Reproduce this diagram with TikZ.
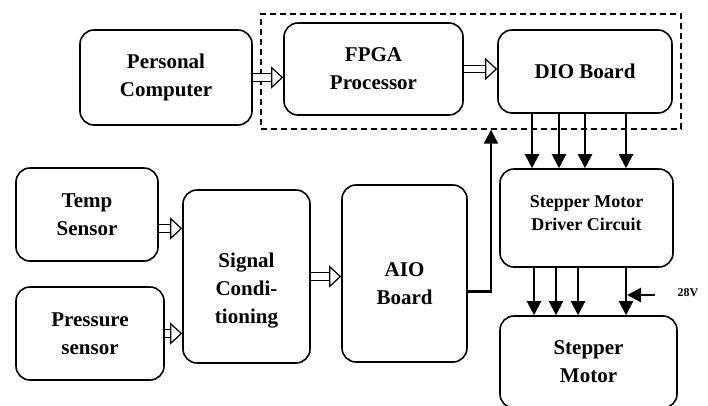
\documentclass[tikz,border=0pt]{standalone}
\usepackage{fontspec}
\setmainfont{Liberation Serif}
\usetikzlibrary{
    arrows.meta,
    positioning
}
\tikzset{
    blk/.style={draw, line width=1.6pt, rounded corners=14pt, align=center},
    hollow/.style={double, double distance=6.5pt, line width=1.2pt, -{Triangle[open, length=12pt, width=22pt]}},
    wire/.style={line width=2.2pt, -{Triangle[length=14pt, width=14pt]}},
    grpbox/.style={draw, dash pattern=on 6pt off 4pt, line width=1.4pt}
}

\begin{document}
\begin{tikzpicture}[x=1pt, y=-1pt, font=\bfseries\fontsize{21}{28}\selectfont]
    \useasboundingbox (0,0) rectangle (708,405);
    \node[grpbox, minimum width=420, minimum height=115] (grp) at (471, 71.5) {};
    \node[blk, minimum width=172, minimum height=95] (pc) at (166, 77.5) {Personal\\Computer};
    \node[blk, minimum width=179, minimum height=92] (fpga) at (373.5, 69) {FPGA\\Processor};
    \node[blk, minimum width=174, minimum height=83] (dio) at (585, 71.5) {DIO Board};
    \node[blk, minimum width=142, minimum height=93] (temp) at (87, 214.5) {Temp\\Sensor};
    \node[blk, minimum width=148, minimum height=93] (press) at (90, 333.5) {Pressure\\sensor};
    \node[blk, minimum width=127, minimum height=173,
          label={[yshift=-14pt, align=center]center:Signal\\Condi-\\tioning}] (sig) at (246.5, 276.5) {};
    \node[blk, minimum width=125, minimum height=177,
          label={[yshift=-10pt, align=center]center:AIO\\Board}] (aio) at (404.5, 273.5) {};
    \node[blk, minimum width=173, minimum height=98,
          label={[yshift=5pt, align=center, font=\bfseries\fontsize{18}{23}\selectfont]center:Stepper Motor\\Driver Circuit}] (drv) at (586.5, 218) {};
    \node[blk, minimum width=177, minimum height=92] (mot) at (588.5, 362) {Stepper\\Motor};
    \node[font=\bfseries\fontsize{12}{14}\selectfont] (v28) at (688, 293) {28V};
    \coordinate (vin) at (655, 295);
    \coordinate (vout) at (627, 295);
    \draw[hollow] (pc.east) -- (pc.east -| fpga.west);
    \draw[hollow] (fpga.east) -- (fpga.east -| dio.west);
    \draw[hollow] ([yshift=-14pt]temp.east) -- ([yshift=-14pt]temp.east -| sig.west);
    \draw[hollow] (press.east) -- (press.east -| sig.west);
    \draw[hollow] (sig.east) -- (sig.east -| aio.west);
    \draw
    ([xshift=-53pt]dio.south) edge[wire] ([xshift=-53pt]dio.south |- drv.north)
    ([xshift=-26pt]dio.south) edge[wire] ([xshift=-26pt]dio.south |- drv.north)
    (dio.south) edge[wire] (dio.south |- drv.north)
    ([xshift=41pt]dio.south) edge[wire] ([xshift=41pt]dio.south |- drv.north)
    ([xshift=-52.5pt]drv.south) edge[wire] ([xshift=-52.5pt]drv.south |- mot.north)
    ([xshift=-30.5pt]drv.south) edge[wire] ([xshift=-30.5pt]drv.south |- mot.north)
    ([xshift=-8.5pt]drv.south) edge[wire] ([xshift=-8.5pt]drv.south |- mot.north)
    ([xshift=39.5pt]drv.south) edge[wire] ([xshift=39.5pt]drv.south |- mot.north)
    (vin) edge[wire] (vout);
    \draw[wire] ([yshift=-18pt]aio.east) -| ([xshift=20pt]grp.south);
\end{tikzpicture}
\end{document}
